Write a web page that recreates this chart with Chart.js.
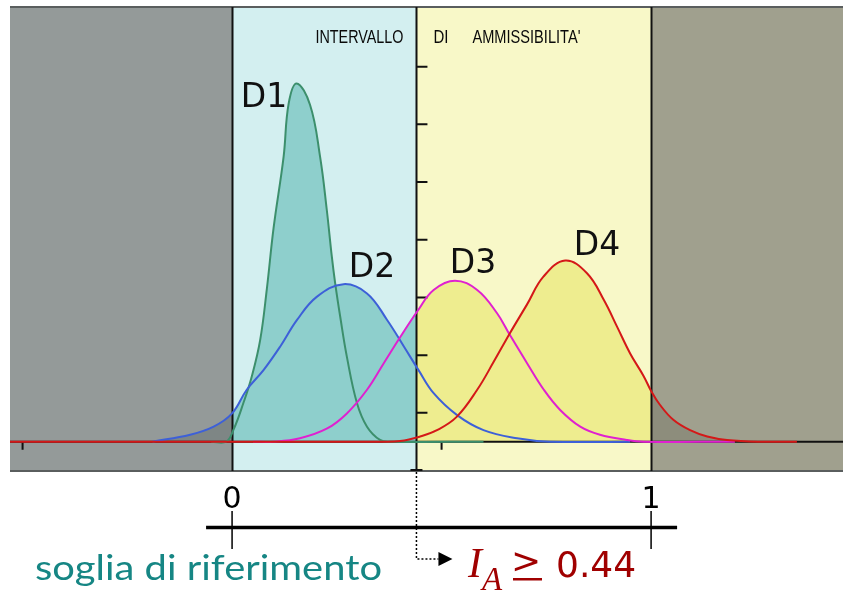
<!DOCTYPE html>
<html>
<head>
<meta charset="utf-8">
<script src="https://cdn.jsdelivr.net/npm/chart.js@4.4.0/dist/chart.umd.min.js"></script>
<style>
  html, body { margin: 0; padding: 0; background: #fff; }
  canvas { display: block; }
</style>
</head>
<body>
<canvas id="chart" width="843" height="590"></canvas>
<script>
// x = admissibility index (0 = reference threshold, 1 = max), y = density (arbitrary units)
const d1X = [-0.05, -0.014, 0.003, 0.027, 0.047, 0.067, 0.083, 0.099, 0.123, 0.135, 0.154, 0.186, 0.210, 0.226, 0.238, 0.246, 0.258, 0.274, 0.298, 0.322, 0.353, 0.377, 0.60];
const d1Y = [0, 0, 0.20, 0.67, 1.13, 1.76, 2.65, 3.70, 4.94, 5.86, 6.21, 5.84, 4.94, 4.02, 3.21, 2.75, 2.17, 1.47, 0.67, 0.26, 0.03, 0, 0];

const d2X = [-0.19, -0.100, -0.044, 0.000, 0.035, 0.075, 0.115, 0.155, 0.202, 0.266, 0.322, 0.370, 0.410, 0.445, 0.481, 0.537, 0.600, 0.680, 0.759, 0.95];
const d2Y = [0, 0.12, 0.26, 0.49, 0.90, 1.24, 1.65, 2.11, 2.51, 2.73, 2.57, 2.11, 1.65, 1.24, 0.84, 0.46, 0.20, 0.06, 0, 0];

const d3X = [0.05, 0.099, 0.162, 0.227, 0.274, 0.322, 0.362, 0.401, 0.443, 0.481, 0.532, 0.585, 0.632, 0.663, 0.704, 0.744, 0.783, 0.831, 0.878, 0.942, 0.982, 1.20];
const d3Y = [0, 0, 0.06, 0.23, 0.49, 0.90, 1.36, 1.81, 2.27, 2.63, 2.79, 2.63, 2.23, 1.85, 1.36, 0.90, 0.55, 0.26, 0.12, 0.03, 0, 0];

const d4X = [-0.53, 0.35, 0.401, 0.449, 0.489, 0.536, 0.585, 0.624, 0.663, 0.704, 0.743, 0.795, 0.847, 0.887, 0.919, 0.950, 0.982, 1.000, 1.021, 1.053, 1.093, 1.134, 1.181, 1.260, 1.348];
const d4Y = [0, 0, 0.01, 0.09, 0.20, 0.43, 0.90, 1.38, 1.88, 2.38, 2.86, 3.14, 2.92, 2.46, 1.99, 1.53, 1.14, 0.88, 0.64, 0.38, 0.20, 0.09, 0.03, 0, 0];

const seriesNames = ["D1", "D2", "D3", "D4"];
// where each name sits (data units, text baseline)
const nameX = [0.076, 0.334, 0.575, 0.871];
const nameY = [5.80, 2.85, 2.92, 3.24];

const bounds = [0, 0.44, 1];          // reference threshold, admissibility threshold, max
const vTicks = [0.5, 1.5, 2.5, 3.5, 4.5, 5.5, 6.5];
const hTicks = [-0.5, 0.5];
const axisLabels = ["0", "1"];

const bandColors = ["#949a99", "#d3eff0", "#f8f8c8", "#a0a08e"];
const underColors = ["#7e8685", "#8ecfcc", "#eeed8f", "#8d8d7c"];
const lineColors = ["#3c8f6c", "#3d60d8", "#e020d0", "#d41818"];

function toPoints(xs, ys) {
    return xs.map((x, i) => ({ x: x, y: ys[i] }));
}

// fill under the curves: one tint per band, so overlaps don't darken
function underFill(context) {
    const chart = context.chart;
    const area = chart.chartArea;
    if (!area || !chart.scales.x) return "rgba(0,0,0,0.15)";
    const xs = chart.scales.x;
    const w = area.right - area.left;
    const f = v => Math.min(1, Math.max(0, (xs.getPixelForValue(v) - area.left) / w));
    const g = chart.ctx.createLinearGradient(area.left, 0, area.right, 0);
    g.addColorStop(0, underColors[0]);
    bounds.forEach((b, i) => {
        g.addColorStop(f(b), underColors[i]);
        g.addColorStop(f(b), underColors[i + 1]);
    });
    g.addColorStop(1, underColors[3]);
    return g;
}

function fitText(ctx, text, x, y, width) {
    const m = ctx.measureText(text).width;
    ctx.save();
    ctx.translate(x, y);
    ctx.scale(width / m, 1);
    ctx.fillText(text, 0, 0);
    ctx.restore();
}

const backdrop = {
    id: "backdrop",
    beforeDraw(chart) {
        const { ctx, chartArea: a, scales } = chart;
        ctx.save();
        ctx.fillStyle = "#fff";
        ctx.fillRect(0, 0, chart.width, chart.height);
        const edges = [a.left].concat(bounds.map(b => scales.x.getPixelForValue(b)), [a.right]);
        for (let i = 0; i < 4; i++) {
            ctx.fillStyle = bandColors[i];
            ctx.fillRect(edges[i], a.top, edges[i + 1] - edges[i], a.bottom - a.top);
        }
        ctx.strokeStyle = "#5a5e5e";
        ctx.lineWidth = 2;
        ctx.beginPath();
        ctx.moveTo(a.left, a.top); ctx.lineTo(a.right, a.top);
        ctx.moveTo(a.left, a.bottom); ctx.lineTo(a.right, a.bottom);
        ctx.stroke();
        ctx.restore();
    },
    beforeDatasetsDraw(chart) {
        const { ctx, chartArea: a, scales } = chart;
        const y0 = scales.y.getPixelForValue(0);
        ctx.save();
        ctx.strokeStyle = "#111";
        ctx.lineWidth = 2;
        ctx.beginPath();
        ctx.moveTo(a.left, y0); ctx.lineTo(a.right, y0);
        bounds.forEach(b => {
            const x = Math.round(scales.x.getPixelForValue(b)) + 0.5;
            ctx.moveTo(x, a.top); ctx.lineTo(x, a.bottom);
        });
        // small marks on the threshold line
        const xt = scales.x.getPixelForValue(bounds[1]);
        vTicks.forEach(v => {
            const y = scales.y.getPixelForValue(v);
            ctx.moveTo(xt, y); ctx.lineTo(xt + 11, y);
        });
        ctx.moveTo(xt - 6, a.bottom - 1); ctx.lineTo(xt + 6, a.bottom - 1);
        hTicks.forEach(v => {
            const x = scales.x.getPixelForValue(v);
            ctx.moveTo(x, y0); ctx.lineTo(x, y0 + 8);
        });
        ctx.stroke();
        ctx.restore();
    },
    afterDraw(chart) {
        const { ctx, chartArea: a, scales } = chart;
        const xs = scales.x, ys = scales.y;
        ctx.save();

        // curve names
        ctx.fillStyle = "#111";
        ctx.font = "33px 'DejaVu Sans'";
        ctx.textAlign = "center";
        ctx.textBaseline = "alphabetic";
        seriesNames.forEach((n, i) => {
            ctx.fillText(n, xs.getPixelForValue(nameX[i]), ys.getPixelForValue(nameY[i]));
        });

        // band title
        const xt = xs.getPixelForValue(bounds[1]);
        ctx.textAlign = "left";
        ctx.fillStyle = "#0a0a0a";
        ctx.font = "18.5px 'Liberation Sans'";
        fitText(ctx, "INTERVALLO", xt - 101, a.top + 36, 88);
        fitText(ctx, "DI", xt + 17, a.top + 36, 15);
        fitText(ctx, "AMMISSIBILITA'", xt + 56, a.top + 36, 108);

        // number line below
        const x0 = xs.getPixelForValue(bounds[0]);
        const x1 = xs.getPixelForValue(bounds[2]);
        const lineY = 527.5;
        ctx.strokeStyle = "#000";
        ctx.lineWidth = 3.5;
        ctx.beginPath();
        ctx.moveTo(x0 - 26, lineY); ctx.lineTo(x1 + 26, lineY);
        ctx.stroke();
        ctx.lineWidth = 1.5;
        ctx.beginPath();
        [x0, x1].forEach(x => { ctx.moveTo(x, 511); ctx.lineTo(x, 549); });
        ctx.stroke();
        ctx.fillStyle = "#000";
        ctx.font = "30px 'DejaVu Sans'";
        ctx.textAlign = "center";
        ctx.fillText(axisLabels[0], x0, 508);
        ctx.fillText(axisLabels[1], x1, 508);

        // dotted connector from the threshold
        ctx.lineWidth = 1.5;
        ctx.setLineDash([2, 2]);
        ctx.beginPath();
        ctx.moveTo(xt, a.bottom + 1); ctx.lineTo(xt, 559); ctx.lineTo(xt + 22, 559);
        ctx.stroke();
        ctx.setLineDash([]);
        ctx.beginPath();
        ctx.moveTo(xt + 22, 552); ctx.lineTo(xt + 36, 559); ctx.lineTo(xt + 22, 566);
        ctx.closePath();
        ctx.fill();

        // captions
        ctx.textAlign = "left";
        ctx.fillStyle = "#168684";
        ctx.font = "35px Lato";
        fitText(ctx, "soglia di riferimento", 35, 580, 347);

        ctx.fillStyle = "#a00000";
        ctx.font = "italic 42px 'Liberation Serif'";
        ctx.fillText("I", 468, 577);
        ctx.font = "italic 33px 'Liberation Serif'";
        ctx.fillText("A", 482, 590);
        ctx.font = "36px 'DejaVu Sans'";
        ctx.fillText(">", 511, 573);
        ctx.fillRect(513, 578, 29, 2.5);
        ctx.fillText("0.44", 556, 577);

        ctx.restore();
    }
};

const datasets = [d1X, d2X, d3X, d4X].map((xs, i) => ({
    label: seriesNames[i],
    data: toPoints(xs, [d1Y, d2Y, d3Y, d4Y][i]),
    borderColor: lineColors[i],
    borderWidth: 2,
    backgroundColor: underFill,
    fill: "origin",
    pointRadius: 0,
    tension: 0.4,
    order: 4 - i
}));

new Chart(document.getElementById("chart"), {
    type: "line",
    data: { datasets: datasets },
    options: {
        responsive: false,
        animation: false,
        layout: { padding: { left: 10, right: 0, top: 7, bottom: 119 } },
        scales: {
            x: { type: "linear", min: -0.53, max: 1.458, display: false },
            y: { type: "linear", min: -0.508, max: 7.534, display: false }
        },
        plugins: {
            legend: { display: false },
            tooltip: { enabled: false },
            filler: { drawTime: "beforeDatasetsDraw" }
        }
    },
    plugins: [backdrop]
});
</script>
</body>
</html>
